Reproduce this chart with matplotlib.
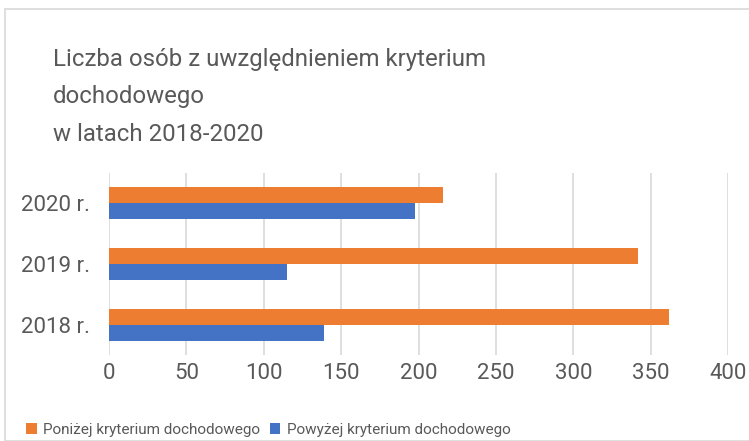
import matplotlib
matplotlib.use("Agg")
import matplotlib.pyplot as plt
from matplotlib.patches import Rectangle

years = ["2018 r.", "2019 r.", "2020 r."]
ponizej = [362, 342, 216]
powyzej = [139, 115, 198]
series_names = ["Poniżej kryterium dochodowego", "Powyżej kryterium dochodowego"]
xticks = [0, 50, 100, 150, 200, 250, 300, 350, 400]

plt.rcParams['font.family'] = ['Roboto', 'DejaVu Sans']
gray = '#595959'

fig = plt.figure(figsize=(7.49, 4.41), dpi=100)
fig.patches.append(Rectangle((5 / 749, 0), 1, 1 - 9 / 441, transform=fig.transFigure,
                             fill=False, edgecolor='#d9d9d9', linewidth=1.2))

ax = fig.add_axes([109 / 749, 1 - 355 / 441, 619 / 749, 182 / 441])

h = 0.265
pos = list(range(len(years)))
ax.barh([p + h / 2 for p in pos], ponizej, height=h, color='#ed7d31', label=series_names[0], zorder=3)
ax.barh([p - h / 2 for p in pos], powyzej, height=h, color='#4472c4', label=series_names[1], zorder=3)

ax.set_xlim(0, 400)
ax.set_ylim(-0.5, 2.5)
ax.set_xticks(xticks)
ax.set_yticks(pos)
ax.set_yticklabels(years)
ax.grid(axis='x', color='#d9d9d9', linewidth=1.2, zorder=0)
for s in ax.spines.values():
    s.set_visible(False)
ax.tick_params(axis='y', length=0, labelsize=16, colors=gray, pad=14)
ax.tick_params(axis='x', length=0, labelsize=16, colors=gray, pad=6)

fig.text(53 / 749, 1 - 48 / 441, "Liczba osób z uwzględnieniem kryterium\ndochodowego\nw latach 2018-2020",
         fontsize=17.3, color=gray, va='top', ha='left', linespacing=1.8)

handles, labels = ax.get_legend_handles_labels()
fig.legend(handles, labels, loc='center left', bbox_to_anchor=(26 / 749, 1 - 430 / 441), ncol=2,
           frameon=False, fontsize=11, labelcolor=gray, handlelength=0.7, handleheight=0.7,
           handletextpad=0.4, columnspacing=0.65, borderaxespad=0, borderpad=0)

fig.savefig("out.png", dpi=100)
